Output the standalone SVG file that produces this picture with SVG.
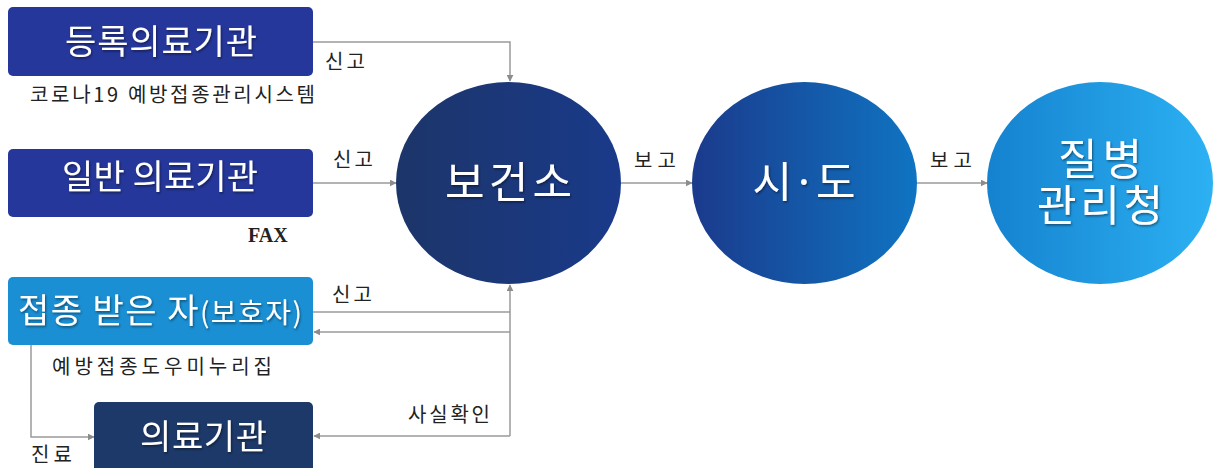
<svg xmlns="http://www.w3.org/2000/svg" width="1214" height="468" viewBox="0 0 1214 468">
<defs>
<linearGradient id="gBo" x1="0" y1="0" x2="1" y2="0"><stop offset="0" stop-color="#1c3569"/><stop offset="1" stop-color="#1a3a8a"/></linearGradient>
<linearGradient id="gSi" x1="0" y1="0" x2="1" y2="0"><stop offset="0" stop-color="#1b3a8c"/><stop offset="1" stop-color="#0f74c2"/></linearGradient>
<linearGradient id="gJil" x1="0" y1="0" x2="1" y2="0"><stop offset="0" stop-color="#1582cf"/><stop offset="1" stop-color="#2cb1f3"/></linearGradient>
<filter id="sh" x="-10%" y="-20%" width="130%" height="150%"><feDropShadow dx="1" dy="1.5" stdDeviation="1" flood-color="#000" flood-opacity="0.45"/></filter>
<marker id="ah" viewBox="0 0 10 10" refX="9" refY="5" markerWidth="7" markerHeight="7" markerUnits="userSpaceOnUse" orient="auto"><path d="M0,0 L10,5 L0,10 z" fill="#8c8c8c"/></marker>
<style>
.lbl{font-family:"Noto Sans CJK KR","Noto Sans",sans-serif;font-size:20px;fill:#222;}
.bt{font-family:"Noto Sans CJK KR","Noto Sans",sans-serif;font-size:34px;fill:#fff;filter:url(#sh);}
.ct{font-family:"Noto Sans CJK KR","Noto Sans",sans-serif;font-size:43px;fill:#fff;filter:url(#sh);}
.cn{fill:none;stroke:#9a9a9a;stroke-width:1.5;}
</style>
</defs>
<rect width="1214" height="468" fill="#fff"/>
<g id="connectors">
<path class="cn" d="M313,42 H510 V81" marker-end="url(#ah)"/>
<path class="cn" d="M313,183 H396" marker-end="url(#ah)"/>
<path class="cn" d="M313,312 H510"/>
<path class="cn" d="M510,436 V285" marker-end="url(#ah)"/>
<path class="cn" d="M510,332 H314" marker-end="url(#ah)"/>
<path class="cn" d="M510,436 H314" marker-end="url(#ah)"/>
<path class="cn" d="M31,345 V437 H94" marker-end="url(#ah)"/>
<path class="cn" d="M621,183 H692" marker-end="url(#ah)"/>
<path class="cn" d="M917,183 H987" marker-end="url(#ah)"/>
<text class="lbl" x="325" y="69" textLength="40" lengthAdjust="spacing">신고</text>
<text class="lbl" x="333" y="167" textLength="40" lengthAdjust="spacing">신고</text>
<text class="lbl" x="332" y="302" textLength="40" lengthAdjust="spacing">신고</text>
<text class="lbl" x="408" y="422" textLength="82" lengthAdjust="spacing">사실확인</text>
<text class="lbl" x="31" y="462" font-size="19" textLength="41" lengthAdjust="spacing">진료</text>
<text class="lbl" x="634" y="168" textLength="42" lengthAdjust="spacing">보고</text>
<text class="lbl" x="930" y="168" textLength="42" lengthAdjust="spacing">보고</text>
</g>
<g id="node-registered">
<rect x="8" y="7" width="305" height="69" rx="5" fill="#25379a"/>
<text class="bt" x="65" y="54" textLength="192" lengthAdjust="spacing">등록의료기관</text>
<text class="lbl" x="30" y="102" textLength="285" lengthAdjust="spacing">코로나19  예방접종관리시스템</text>
</g>
<g id="node-general">
<rect x="8" y="149" width="305" height="68" rx="5" fill="#25379a"/>
<text class="bt" x="62" y="189" textLength="196" lengthAdjust="spacing">일반 의료기관</text>
<text x="248" y="242" font-family="Liberation Serif, serif" font-weight="bold" font-size="20" fill="#222">FAX</text>
</g>
<g id="node-vaccinee">
<rect x="8" y="277" width="305" height="68" rx="5" fill="#1a8fd3"/>
<text class="bt" x="18" y="323" textLength="284" lengthAdjust="spacing">접종 받은 자<tspan font-size="28">(보호자)</tspan></text>
<text class="lbl" x="52" y="374" textLength="220" lengthAdjust="spacing">예방접종도우미누리집</text>
</g>
<g id="node-clinic">
<rect x="94" y="402" width="219" height="70" rx="5" fill="#1d3969"/>
<text class="bt" x="140" y="449" textLength="127" lengthAdjust="spacing">의료기관</text>
</g>
<g id="node-bogeonso">
<ellipse cx="508.5" cy="183" rx="112.5" ry="101" fill="url(#gBo)"/>
<text class="ct" x="445" y="198" textLength="127" lengthAdjust="spacing">보건소</text>
</g>
<g id="node-sido">
<ellipse cx="804.5" cy="183" rx="112.5" ry="101" fill="url(#gSi)"/>
<text class="ct" x="804" y="198" text-anchor="middle">시·도</text>
</g>
<g id="node-kdca">
<ellipse cx="1100" cy="183" rx="113" ry="101" fill="url(#gJil)"/>
<text class="ct"><tspan x="1058" y="175" textLength="84" lengthAdjust="spacing">질병</tspan><tspan x="1037" y="221" textLength="126" lengthAdjust="spacing">관리청</tspan></text>
</g>
</svg>
